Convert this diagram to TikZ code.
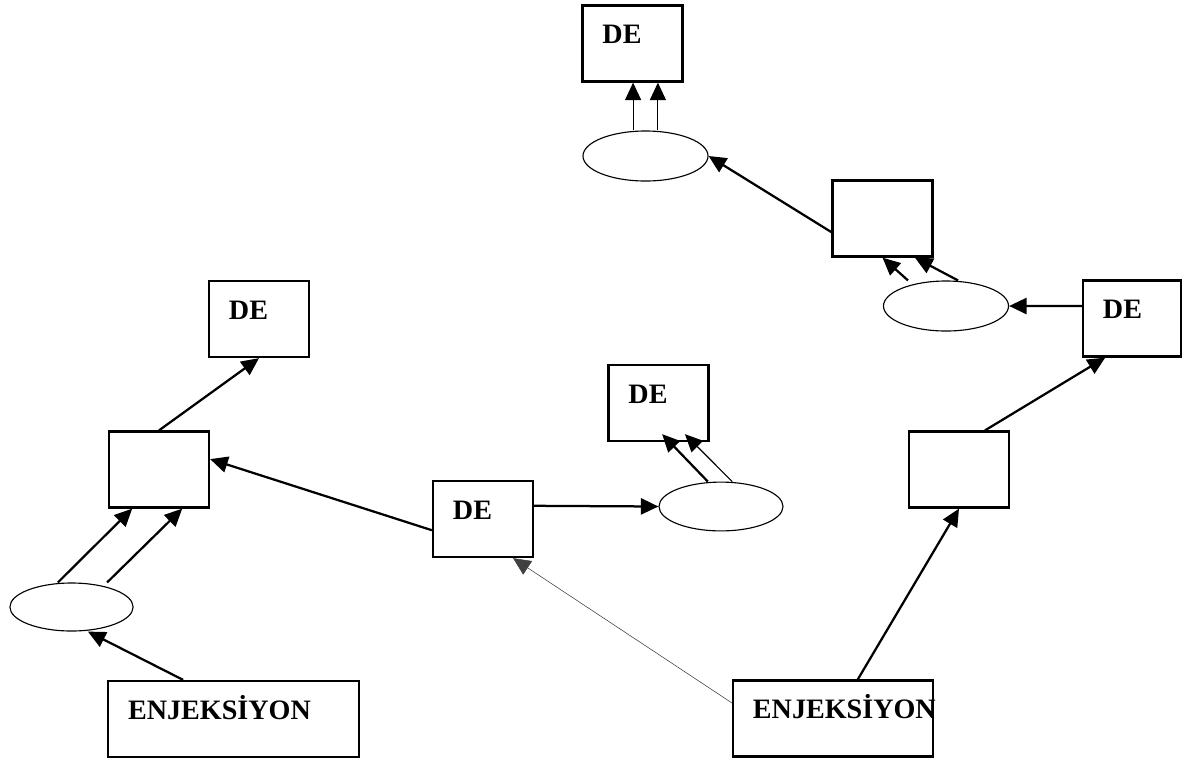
\documentclass[tikz,border=0pt]{standalone}
\usepackage{fontspec}
\newfontfamily\yazifont{Liberation Serif}
\usetikzlibrary{shapes.geometric,arrows.meta}

\begin{document}
\begin{tikzpicture}[x=0.025cm,y=-0.025cm]
    \tikzset{Kutu/.style = {shape=rectangle,draw,line width=1.6pt,minimum width=2.5cm,minimum height=1.9cm,inner sep=0pt}}
    \tikzset{Elips/.style = {shape=ellipse,draw,line width=0.8pt,minimum width=3.125cm,minimum height=1.25cm,inner sep=0pt}}
    \tikzset{Yazi/.style = {font={\yazifont\bfseries\fontsize{20}{22}\selectfont},anchor=base west,inner sep=0pt,xshift=0.52cm,yshift=-0.98cm}}
    \tikzset{KutuDE/.style = {Kutu,label={[Yazi]north west:DE}}}

    \tikzset{ok/.style = {-{Triangle[length=12.5pt,width=11.5pt]},line width=1.6pt}}
    \tikzset{okInce/.style = {ok,line width=0.8pt}}

    \useasboundingbox (0,0) rectangle (1183,759);

    \node[KutuDE] (deUst) at (632.5,43.5) {};
    \node[Elips] (elipsUst) at (645.5,156) {};

    \node[Kutu] (kutuSag) at (882.5,218.5) {};
    \node[Elips] (elipsSag) at (946,306) {};
    \node[KutuDE,minimum width=2.45cm] (deSag) at (1132,318.5) {};
    \node[Kutu] (kutuSagAlt) at (959,469.5) {};
    \node[Kutu,minimum width=5cm,label={[Yazi]north west:ENJEKSİYON}] (enjSag) at (833,718.5) {};

    \node[KutuDE] (deOrta) at (483,519) {};
    \node[Elips,minimum width=3.1cm,minimum height=1.22cm] (elipsOrta) at (721,506.5) {};
    \node[KutuDE] (deOrtaUst) at (658.5,403) {};

    \node[KutuDE] (deSol) at (259,319) {};
    \node[Kutu] (kutuSol) at (159,469.5) {};
    \node[Elips,minimum width=3.08cm,minimum height=1.2cm] (elipsSol) at (71.5,607) {};
    \node[Kutu,minimum width=6.27cm,label={[Yazi]north west:ENJEKSİYON}] (enjSol) at (233.5,719) {};

    %Ust kisim
    \draw [okInce] ([xshift=-0.31cm]elipsUst.north) to ([xshift=-0.31cm]elipsUst.north |- deUst.south);
    \draw [okInce] ([xshift=0.31cm]elipsUst.north) to ([xshift=0.31cm]elipsUst.north |- deUst.south);
    \draw [ok] ([yshift=-0.34cm]kutuSag.west) to (elipsUst.east);

    %Sag taraf
    \draw [ok] ([xshift=-0.95cm]elipsSag.north) to (kutuSag.south);
    \draw [ok] ([xshift=0.3cm]elipsSag.north) to ([xshift=0.81cm]kutuSag.south);
    \draw [ok] ([yshift=0.31cm]deSag.west) to (elipsSag.east);
    \draw [ok] ([xshift=0.65cm]kutuSagAlt.north) to ([xshift=-0.67cm]deSag.south);
    \draw [ok] ([xshift=0.62cm]enjSag.north) to (kutuSagAlt.south);

    %Orta
    \draw [okInce,line width=0.4pt,draw=black!75] ([yshift=0.39cm]enjSag.west) to ([xshift=0.75cm]deOrta.south);
    \draw [ok] ([yshift=0.33cm]deOrta.east) to (elipsOrta.west);
    \draw [ok] ([xshift=-0.33cm]elipsOrta.north) to ([xshift=0.09cm,yshift=0.2cm]deOrtaUst.south);
    \draw [okInce] ([xshift=0.28cm]elipsOrta.north) to ([xshift=0.66cm,yshift=0.2cm]deOrtaUst.south);

    %Sol taraf
    \draw [ok] ([yshift=-0.28cm]deOrta.west) to ([yshift=0.26cm]kutuSol.east);
    \draw [ok] (kutuSol.north) to (deSol.south);
    \draw [ok] ([xshift=-0.34cm]elipsSol.north) to ([xshift=-0.67cm]kutuSol.south);
    \draw [ok] ([xshift=0.89cm]elipsSol.north) to ([xshift=0.58cm]kutuSol.south);
    \draw [ok] ([xshift=-1.26cm]enjSol.north) to ([xshift=0.41cm]elipsSol.south);

\end{tikzpicture}
\end{document}
